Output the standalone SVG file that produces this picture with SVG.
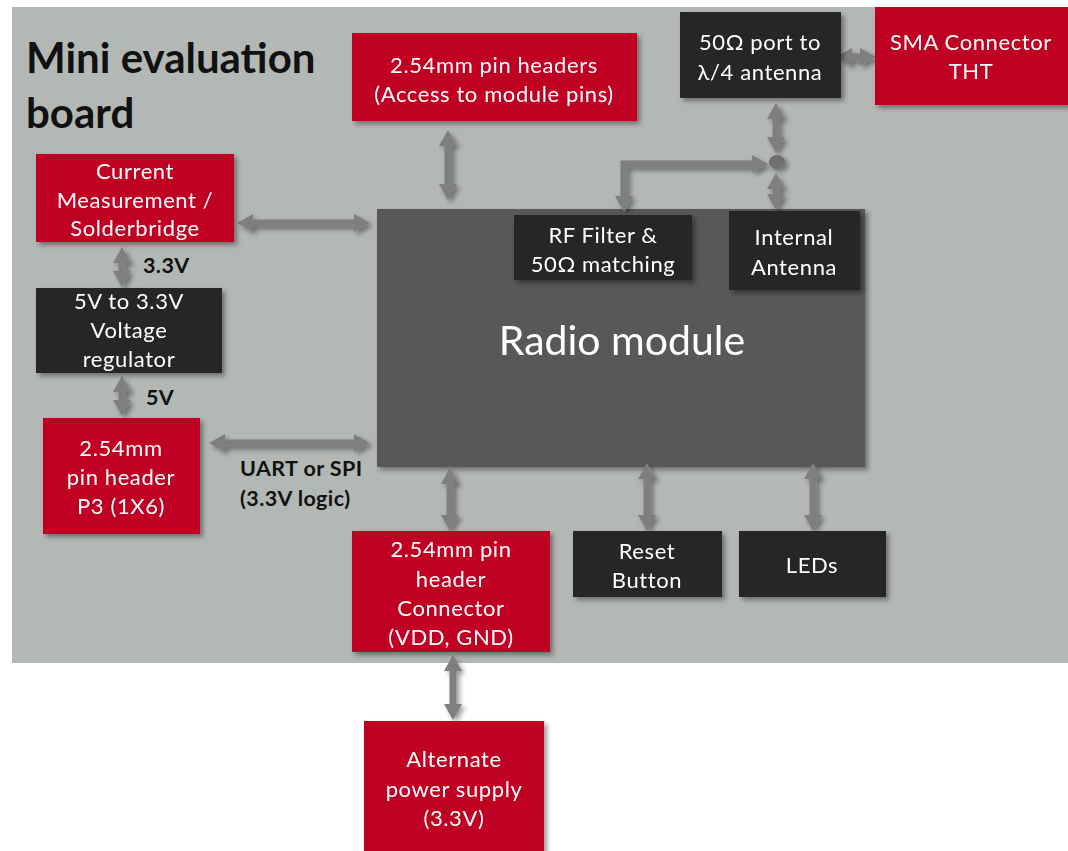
<svg xmlns="http://www.w3.org/2000/svg" width="1068" height="851" viewBox="0 0 1068 851">
<style>
.red{fill:#c00020}
.dark{fill:#262626}
.radio{fill:#595959}
.t{font-family:Lato,"Liberation Sans",sans-serif;font-size:22px;letter-spacing:0.6px;fill:#ffffff;text-anchor:middle}
.lbl{font-family:Lato,"Liberation Sans",sans-serif;font-size:21.5px;letter-spacing:0.4px;font-weight:bold;fill:#111111}
.conn line,.conn path{stroke:#7f7f7f;stroke-width:7;fill:none;marker-end:url(#ah);marker-start:url(#ah)}
</style>
<defs>
<filter id="sh" x="-20%" y="-20%" width="140%" height="140%">
<feDropShadow dx="3" dy="3" stdDeviation="2.5" flood-color="#000" flood-opacity="0.4"/>
</filter>
<marker id="ah" viewBox="0 0 16 18" markerWidth="16" markerHeight="18" markerUnits="userSpaceOnUse" refX="2" refY="9" orient="auto-start-reverse">
<path d="M0,0 L16,9 L0,18 z" fill="#7f7f7f"/>
</marker>
</defs>
<rect x="12" y="7" width="1056" height="656" fill="#b3b8b5"/>
<g id="title">
<text x="26" y="73" font-family="Lato,'Liberation Sans',sans-serif" font-size="42" font-weight="bold" fill="#111">Mini evaluation</text>
<text x="26" y="128" font-family="Lato,'Liberation Sans',sans-serif" font-size="42" font-weight="bold" fill="#111">board</text>
</g>
<g id="radio-module" filter="url(#sh)">
<rect class="radio" x="377" y="209" width="488" height="258"/>
<text x="622" y="355" font-family="Lato,'Liberation Sans',sans-serif" font-size="41" fill="#fff" text-anchor="middle">Radio module</text>
</g>
<g class="conn" id="connectors" filter="url(#sh)">
<line x1="448" y1="144" x2="448" y2="186"/>
<line x1="251" y1="223" x2="356" y2="223"/>
<line x1="122" y1="261" x2="122" y2="273"/>
<line x1="122" y1="390" x2="122" y2="402"/>
<line x1="223" y1="443" x2="356" y2="443"/>
<line x1="450" y1="482" x2="450" y2="517"/>
<line x1="453" y1="669" x2="453" y2="706"/>
<line x1="647" y1="477" x2="647" y2="517"/>
<line x1="813" y1="477" x2="813" y2="517"/>
<line x1="850" y1="57" x2="862" y2="57"/>
<line x1="776" y1="117" x2="776" y2="139"/>
<line x1="776" y1="187" x2="776" y2="196"/>
<path d="M754,164 H624 V198"/>
<ellipse cx="777" cy="162" rx="8" ry="7" fill="#707070"/>
</g>
<g id="pin-headers" filter="url(#sh)">
<rect class="red" x="352" y="33" width="285" height="88"/>
<text class="t" x="494" y="73">2.54mm pin headers</text>
<text class="t" x="494" y="102">(Access to module pins)</text>
</g>
<g id="sma" filter="url(#sh)">
<rect class="red" x="875" y="7" width="193" height="98"/>
<text class="t" x="971" y="50">SMA Connector</text>
<text class="t" x="971" y="79">THT</text>
</g>
<g id="port50" filter="url(#sh)">
<rect class="dark" x="680" y="12" width="161" height="86"/>
<text class="t" x="760" y="50">50Ω port to</text>
<text class="t" x="760" y="80">λ/4 antenna</text>
</g>
<g id="current" filter="url(#sh)">
<rect class="red" x="36" y="154" width="198" height="88"/>
<text class="t" x="135" y="179">Current</text>
<text class="t" x="135" y="208">Measurement /</text>
<text class="t" x="135" y="236">Solderbridge</text>
</g>
<g id="regulator" filter="url(#sh)">
<rect class="dark" x="36" y="288" width="186" height="85"/>
<text class="t" x="129" y="309">5V to 3.3V</text>
<text class="t" x="129" y="338">Voltage</text>
<text class="t" x="129" y="367">regulator</text>
</g>
<g id="p3" filter="url(#sh)">
<rect class="red" x="43" y="418" width="157" height="116"/>
<text class="t" x="121" y="456">2.54mm</text>
<text class="t" x="121" y="485">pin header</text>
<text class="t" x="121" y="514">P3 (1X6)</text>
</g>
<g id="rf-filter" filter="url(#sh)">
<rect class="dark" x="514" y="215" width="178" height="65"/>
<text class="t" x="603" y="243">RF Filter &amp;</text>
<text class="t" x="603" y="272">50Ω matching</text>
</g>
<g id="internal-antenna" filter="url(#sh)">
<rect class="dark" x="729" y="211" width="131" height="79"/>
<text class="t" x="794" y="245">Internal</text>
<text class="t" x="794" y="275">Antenna</text>
</g>
<g id="vdd-connector" filter="url(#sh)">
<rect class="red" x="352" y="531" width="198" height="121"/>
<text class="t" x="451" y="557">2.54mm pin</text>
<text class="t" x="451" y="587">header</text>
<text class="t" x="451" y="616">Connector</text>
<text class="t" x="451" y="645">(VDD, GND)</text>
</g>
<g id="reset" filter="url(#sh)">
<rect class="dark" x="573" y="531" width="149" height="66"/>
<text class="t" x="647" y="559">Reset</text>
<text class="t" x="647" y="588">Button</text>
</g>
<g id="leds" filter="url(#sh)">
<rect class="dark" x="739" y="531" width="147" height="66"/>
<text class="t" x="812" y="573">LEDs</text>
</g>
<g id="alt-power" filter="url(#sh)">
<rect class="red" x="364" y="721" width="180" height="135"/>
<text class="t" x="454" y="767">Alternate</text>
<text class="t" x="454" y="797">power supply</text>
<text class="t" x="454" y="826">(3.3V)</text>
</g>
<g id="labels">
<text class="lbl" x="143" y="273">3.3V</text>
<text class="lbl" x="146" y="405">5V</text>
<text class="lbl" x="240" y="476">UART or SPI</text>
<text class="lbl" x="240" y="506">(3.3V logic)</text>
</g>
</svg>
